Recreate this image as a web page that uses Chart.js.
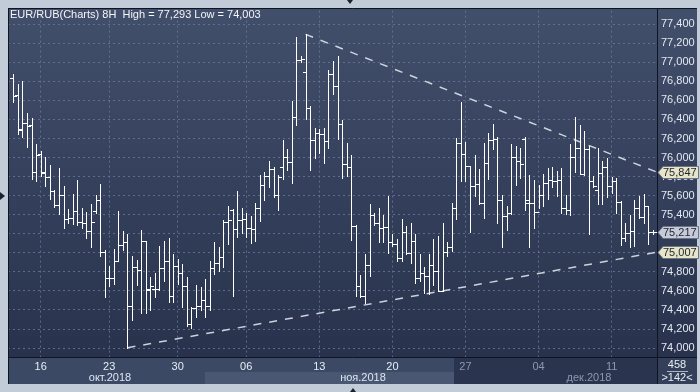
<!DOCTYPE html>
<html>
<head>
<meta charset="utf-8">
<script src="https://cdn.jsdelivr.net/npm/chart.js@4/dist/chart.umd.min.js"></script>
<style>
  html, body { margin: 0; padding: 0; background: #c2cbd8; }
  #wrap { width: 700px; height: 392px; }
</style>
</head>
<body>
<div id="wrap"><canvas id="chart" width="700" height="392"></canvas></div>
<script>
// EUR/RUB 8H бары (OHLC)
const opens = [76831,76654,76300,76362,76338,75852,76036,75838,75793,75650,75505,75612,75352,75369,75435,75320,75310,75226,75438,75557,
  75011,74737,74740,74914,75081,75115,74438,74855,74820,75119,74610,74619,74619,74841,74917,74542,74862,74789,74650,74251,
  74424,74438,74508,74438,74844,74893,74959,75324,75449,75251,75345,75352,75258,75248,75473,75709,75810,75879,75612,75900,
  76001,75952,76421,77029,76897,76522,76185,76255,76248,76178,76873,76751,76348,75932,75900,75282,74647,74549,74872,75393,
  75310,75265,75275,75112,75091,74945,75219,74997,75122,74737,74789,74754,74872,74813,74598,75011,75056,75473,76157,76039,
  75907,75699,75727,75525,75942,76185,76195,75550,75386,75414,76011,75966,76195,75525,75525,75428,75605,75734,75761,75751,
  75768,75473,75445,76001,76105,75828,76091,75758,75664,75838,75897,75706,75758,75536,75154,75206,75230,75466,75376,75490,
  75223];
const highs = [76873,76776,76803,76470,76414,76143,76074,76008,75918,75664,75886,75699,75456,75622,75761,75470,75428,75508,75609,75720,
  75029,74862,75042,75438,75230,75195,74966,74928,75237,75126,74750,74785,75074,75126,75160,74987,74932,74883,74751,74431,
  74664,74640,74720,74917,75115,75056,75341,75490,75456,75647,75473,75421,75386,75525,75814,75848,75959,75897,75820,76182,
  76088,76591,77262,77071,77293,76539,76307,76296,76307,76914,77018,77071,76393,76150,76029,75293,74772,74987,75515,75421,
  75473,75397,75595,75195,75143,75352,75283,75317,75195,74987,74855,74987,75143,75178,75317,75109,75525,76202,76584,76161,
  75910,76022,75879,76150,76261,76352,76220,75612,75490,76143,76126,76105,76220,75820,75761,75716,75831,75890,75897,75862,
  75890,75612,76140,76428,76341,76279,76126,75803,76105,75960,75994,75796,75786,75540,75317,75397,75550,75595,75622,75495,
  75237];
const lows = [76584,76244,76213,76109,75775,75754,75803,75706,75567,75484,75404,75265,75310,75303,75296,75265,75154,75056,75421,74966,
  74535,74650,74674,74910,75032,74003,74299,74657,74369,74372,74400,74535,74612,74709,74483,74483,74674,74431,74230,74206,
  74327,74396,74327,74396,74778,74813,74855,75091,74546,75161,75213,75161,75098,75126,75334,75556,75692,75588,75452,75780,
  75872,75734,76341,77001,76400,75872,75994,76046,75942,76098,76671,76196,75786,75803,75133,74542,74535,74473,74761,75293,
  75109,75109,74997,75074,74910,74910,74987,74890,74681,74709,74577,74570,74657,74595,74595,74970,75014,75358,75758,75751,
  75223,75595,75508,75369,75779,76088,75317,75063,75240,75404,75709,75786,75449,75056,75265,75473,75490,75560,75692,75595,
  75421,75404,75397,75845,75828,75821,75202,75692,75515,75515,75584,75629,75421,75081,75119,75056,75067,75369,75310,75091,
  75195];
const closes = [76647,76293,76362,76331,75852,76029,75848,75793,75650,75505,75612,75352,75369,75435,75320,75310,75226,75320,75557,75011,
  74737,74740,74914,75081,75115,74438,74855,74820,75119,74619,74650,74619,74841,74917,74542,74862,74789,74650,74251,74424,
  74438,74508,74438,74844,74893,74959,75324,75341,75251,75345,75352,75258,75248,75473,75709,75810,75879,75612,75793,76001,
  75952,76421,77029,77036,76522,76185,76255,76248,76178,76873,76751,76348,75932,75900,75282,74647,74549,74872,75393,75310,
  75265,75275,75112,75091,74945,75219,74997,75122,74737,74789,74754,74872,74813,74598,75011,75056,75473,76157,76039,75907,
  75699,75727,75525,75942,76185,76195,75550,75386,75414,76011,75966,75931,75550,75525,75428,75605,75734,75761,75751,75768,
  75473,75445,76001,76105,75828,76091,75758,75706,75838,75897,75706,75758,75536,75154,75206,75230,75466,75376,75490,75223,
  75217];

// подписи оси X (индекс бара -> день)
const weekIdx = [6, 21, 36, 51, 67, 83, 99, 115, 131];
const weekLabels = ['16', '23', '30', '06', '13', '20', '27', '04', '11'];
const months = ['окт.2018', 'ноя.2018', 'дек.2018'];
const priceTicks = [74000,74200,74400,74600,74800,75000,75200,75400,75600,75800,76000,76200,76400,76600,76800,77000,77200,77400];

// линии треугольника
const upperLine = [{x: 64, y: 77293}, {x: 140.94, y: 75847}];
const lowerLine = [{x: 25, y: 74003}, {x: 140.94, y: 75007}];
const markers = [[75847, '#e8e5c6'], [75217, '#c6cbd7'], [75007, '#e8e5c6']];

const FONT = '"Liberation Sans", Arial, sans-serif';

function fmt(v) {
  const r = Math.round(v);
  return Math.floor(r / 1000) + ',' + String(r % 1000).padStart(3, '0');
}

const bgPlugin = {
  id: 'bg',
  beforeDraw(chart) {
    const ctx = chart.ctx;
    ctx.save();
    ctx.fillStyle = '#c2cbd8';
    ctx.fillRect(0, 0, 700, 392);
    const g = ctx.createLinearGradient(0, 8, 0, 357);
    g.addColorStop(0, '#424f6b');
    g.addColorStop(1, '#28324d');
    ctx.fillStyle = g;
    ctx.fillRect(8, 8, 689, 349);
    // нижние полосы
    ctx.fillStyle = '#3c4964';
    ctx.fillRect(8, 357, 446, 27);
    ctx.fillStyle = '#2a344f';
    ctx.fillRect(454, 357, 203, 27);
    ctx.fillStyle = '#4a5773';
    ctx.fillRect(205, 372, 249, 12);
    ctx.fillStyle = '#344059';
    ctx.fillRect(657, 357, 40, 27);
    ctx.restore();
  },
  afterDraw(chart) {
    const ctx = chart.ctx;
    const y = chart.scales.y;
    ctx.save();
    // рамки
    ctx.strokeStyle = '#0f1422';
    ctx.lineWidth = 1;
    ctx.beginPath();
    ctx.moveTo(8.5, 8); ctx.lineTo(8.5, 384);
    ctx.moveTo(8, 8.5); ctx.lineTo(697, 8.5);
    ctx.moveTo(657.5, 8); ctx.lineTo(657.5, 384);
    ctx.moveTo(8, 357.5); ctx.lineTo(697, 357.5);
    ctx.stroke();

    // заголовок
    ctx.font = '11px ' + FONT;
    ctx.textBaseline = 'middle';
    ctx.textAlign = 'left';
    ctx.fillStyle = '#f2f4f8';
    ctx.fillText('EUR/RUB(Charts) 8H  High = 77,293 Low = 74,003', 10, 15);

    // месяцы
    ctx.textAlign = 'center';
    ctx.fillStyle = '#dfe6f0';
    ctx.fillText(months[0], 110, 378);
    ctx.fillText(months[1], 363, 378);
    ctx.fillStyle = '#8e98ac';
    ctx.fillText(months[2], 589, 378);

    // счётчик баров
    ctx.fillStyle = '#e8edf5';
    ctx.fillText('458', 677, 365);
    ctx.fillText('>142<', 677, 378);
    ctx.strokeStyle = '#aab4c6';
    ctx.beginPath();
    ctx.moveTo(667, 371.5); ctx.lineTo(688, 371.5);
    ctx.stroke();

    // метки цены
    ctx.textAlign = 'left';
    markers.forEach(([v, fill]) => {
      const py = Math.round(y.getPixelForValue(v)) + 0.5;
      ctx.beginPath();
      ctx.moveTo(658, py);
      ctx.lineTo(663, py - 6);
      ctx.lineTo(698.5, py - 6);
      ctx.lineTo(698.5, py + 6);
      ctx.lineTo(663, py + 6);
      ctx.closePath();
      ctx.fillStyle = fill;
      ctx.fill();
      ctx.strokeStyle = '#6b7488';
      ctx.stroke();
      ctx.fillStyle = '#1d2434';
      ctx.fillText(fmt(v), 663, py + 0.5);
    });

    // маленькие треугольники по краям
    ctx.fillStyle = '#1a2030';
    ctx.beginPath();
    ctx.moveTo(347, 0); ctx.lineTo(353, 0); ctx.lineTo(350, 4); ctx.closePath();
    ctx.moveTo(0, 192); ctx.lineTo(5, 196); ctx.lineTo(0, 200); ctx.closePath();
    ctx.moveTo(350, 392); ctx.lineTo(356, 392); ctx.lineTo(353, 388); ctx.closePath();
    ctx.fill();
    ctx.restore();
  }
};

// OHLC бары
const ohlcPlugin = {
  id: 'ohlc',
  afterDatasetsDraw(chart) {
    const {ctx, chartArea, scales: {x, y}} = chart;
    ctx.save();
    ctx.beginPath();
    ctx.rect(chartArea.left, chartArea.top, chartArea.right - chartArea.left, chartArea.bottom - chartArea.top);
    ctx.clip();
    ctx.strokeStyle = '#ffffff';
    ctx.lineWidth = 1;
    ctx.beginPath();
    for (let i = 0; i < opens.length; i++) {
      const px = Math.round(x.getPixelForValue(i)) + 0.5;
      const yh = Math.round(y.getPixelForValue(highs[i]));
      const yl = Math.round(y.getPixelForValue(lows[i]));
      const yo = Math.round(y.getPixelForValue(opens[i])) + 0.5;
      const yc = Math.round(y.getPixelForValue(closes[i])) + 0.5;
      ctx.moveTo(px, yh);
      ctx.lineTo(px, yl + 1);
      ctx.moveTo(px - 3.5, yo);
      ctx.lineTo(px, yo);
      ctx.moveTo(px, yc);
      ctx.lineTo(px + 3.5, yc);
    }
    ctx.stroke();
    ctx.restore();
  }
};

const trendStyle = {
  type: 'line',
  borderColor: 'rgba(222,226,234,0.9)',
  borderWidth: 1.5,
  borderDash: [8, 8],
  pointRadius: 0,
  fill: false
};

new Chart(document.getElementById('chart'), {
  type: 'line',
  data: {
    datasets: [
      Object.assign({ data: upperLine }, trendStyle),
      Object.assign({ data: lowerLine }, trendStyle)
    ]
  },
  options: {
    responsive: false,
    animation: false,
    events: [],
    layout: { padding: { left: 8, top: 8, right: 3, bottom: 8 } },
    plugins: { legend: { display: false }, tooltip: { enabled: false } },
    scales: {
      x: {
        type: 'linear',
        min: -1.16,
        max: 140.94,
        afterFit(scale) { scale.height = 27; },
        afterBuildTicks(scale) { scale.ticks = weekIdx.map(v => ({ value: v })); },
        grid: { color: 'rgba(110,124,156,0.75)', drawTicks: false },
        border: { display: false, dash: [2, 3] },
        ticks: {
          padding: 3,
          maxRotation: 0,
          autoSkip: false,
          font: { family: FONT, size: 11 },
          color: c => (c.index >= 6 ? '#8e98ac' : '#e8edf5'),
          callback: (v) => weekLabels[weekIdx.indexOf(v)]
        }
      },
      y: {
        position: 'right',
        min: 73906.2,
        max: 77542.8,
        afterFit(scale) { scale.width = 40; },
        afterBuildTicks(scale) { scale.ticks = priceTicks.map(v => ({ value: v })); },
        grid: { color: 'rgba(110,124,156,0.75)', drawTicks: false },
        border: { display: false, dash: [2, 3] },
        ticks: {
          padding: 4,
          font: { family: FONT, size: 11 },
          color: '#e4e9f2',
          callback: v => fmt(v)
        }
      }
    }
  },
  plugins: [bgPlugin, ohlcPlugin]
});
</script>
</body>
</html>
